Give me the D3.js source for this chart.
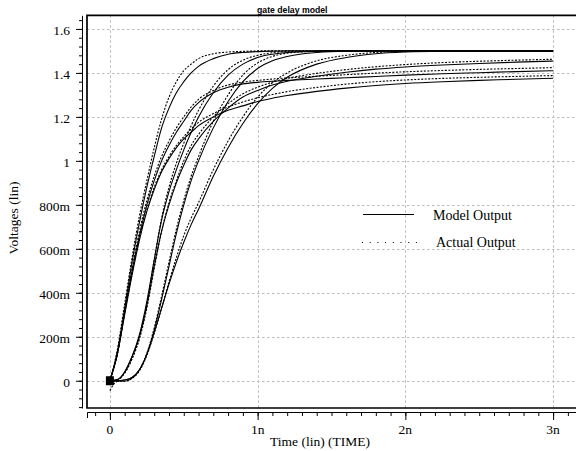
<!DOCTYPE html>
<html><head><meta charset="utf-8">
<script src="https://cdn.jsdelivr.net/npm/d3@7"></script>
<style>body{margin:0;background:#fff}</style>
</head><body>
<svg id="chart" width="576" height="451"></svg>
<script>
const titleText = "gate delay model";
const xLabel = "Time (lin) (TIME)";
const yLabel = "Voltages (lin)";
const xTicks = [0, 1, 2, 3];
const xTickLabels = ["0", "1n", "2n", "3n"];
const yTicks = [0, 0.2, 0.4, 0.6, 0.8, 1.0, 1.2, 1.4, 1.6];
const yTickLabels = ["0", "200m", "400m", "600m", "800m", "1", "1.2", "1.4", "1.6"];
const legendLabels = ["Model Output", "Actual Output"];

// time in ns
const timeNs = [0,0.05,0.1,0.15,0.2,0.25,0.3,0.35,0.4,0.45,0.5,0.55,0.6,0.7,0.8,0.9,1.0,1.1,1.2,1.4,1.6,1.8,2.0,2.25,2.5,2.75,3.0];

// model (solid) outputs, volts
const model1 = [0,.13,.33,.54,.72,.88,1.02,1.15,1.24,1.31,1.36,1.40,1.43,1.465,1.485,1.493,1.497,1.499,1.5,1.5,1.5,1.5,1.5,1.5,1.5,1.5,1.5];
const model2 = [0,.12,.31,.5,.66,.8,.91,1.0,1.07,1.13,1.18,1.23,1.265,1.31,1.335,1.35,1.357,1.362,1.366,1.372,1.378,1.384,1.39,1.396,1.401,1.406,1.41];
const model3 = [0,.12,.3,.48,.64,.77,.87,.95,1.01,1.06,1.1,1.13,1.16,1.2,1.23,1.25,1.27,1.285,1.297,1.316,1.331,1.343,1.352,1.36,1.366,1.371,1.376];
const model4 = [0,.005,.04,.11,.21,.36,.55,.73,.86,.96,1.05,1.13,1.2,1.31,1.39,1.44,1.47,1.485,1.493,1.498,1.5,1.5,1.5,1.5,1.5,1.5,1.5];
const model5 = [0,.005,.04,.11,.2,.34,.52,.68,.8,.9,.98,1.05,1.1,1.18,1.24,1.29,1.32,1.345,1.362,1.385,1.403,1.417,1.427,1.436,1.443,1.449,1.454];
const model6 = [0,0,.003,.015,.05,.12,.22,.33,.44,.54,.63,.71,.78,.93,1.06,1.17,1.26,1.33,1.38,1.44,1.47,1.487,1.495,1.499,1.5,1.5,1.5];
const model7 = [0,0,.003,.015,.05,.12,.23,.37,.52,.67,.8,.91,1.0,1.15,1.27,1.36,1.42,1.455,1.475,1.493,1.499,1.5,1.5,1.5,1.5,1.5,1.5];

// actual (dotted) outputs, volts
const actual1 = [0,.14,.35,.56,.75,.91,1.06,1.19,1.29,1.36,1.41,1.44,1.465,1.487,1.495,1.498,1.5,1.5,1.5,1.5,1.5,1.5,1.5,1.5,1.5,1.5,1.5];
const actual2 = [0,.12,.32,.51,.68,.82,.93,1.02,1.09,1.15,1.2,1.245,1.28,1.32,1.345,1.358,1.366,1.372,1.377,1.385,1.392,1.399,1.405,1.411,1.416,1.42,1.424];
const actual3 = [0,.12,.31,.49,.65,.78,.88,.96,1.02,1.07,1.11,1.145,1.175,1.215,1.245,1.268,1.287,1.302,1.315,1.334,1.349,1.36,1.368,1.375,1.38,1.384,1.388];
const actual4 = [0,.004,.035,.1,.2,.35,.55,.74,.88,.99,1.08,1.16,1.23,1.34,1.415,1.458,1.48,1.492,1.497,1.5,1.5,1.5,1.5,1.5,1.5,1.5,1.5];
const actual5 = [0,.004,.035,.1,.19,.33,.51,.68,.81,.91,1.0,1.07,1.12,1.2,1.26,1.305,1.335,1.358,1.375,1.398,1.415,1.428,1.438,1.447,1.453,1.458,1.462];
const actual6 = [-.045,-.003,-.002,.01,.045,.115,.215,.33,.45,.56,.66,.74,.81,.96,1.09,1.2,1.29,1.355,1.4,1.455,1.48,1.493,1.498,1.5,1.5,1.5,1.5];
const actual7 = [0,-.003,-.002,.012,.05,.125,.24,.385,.54,.69,.82,.93,1.02,1.18,1.3,1.39,1.445,1.475,1.49,1.498,1.5,1.5,1.5,1.5,1.5,1.5,1.5];

const modelSeries = [model1, model2, model3, model4, model5, model6, model7];
const actualSeries = [actual1, actual2, actual3, actual4, actual5, actual6, actual7];

const svg = d3.select("#chart");
const x = d3.scaleLinear().domain([-0.155, 3.155]).range([87, 576]);
const y = d3.scaleLinear().domain([-0.124, 1.662]).range([408, 15.3]);
const serif = "'Liberation Serif','Times New Roman',serif";

// grid
const grid = svg.append("g").attr("stroke", "#bcbcbc").attr("stroke-width", 1).attr("stroke-dasharray", "2.5,2.5");
grid.selectAll("line.h").data(yTicks).join("line")
  .attr("x1", x.range()[0]).attr("x2", x.range()[1])
  .attr("y1", d => Math.round(y(d)) + 0.5).attr("y2", d => Math.round(y(d)) + 0.5);
grid.selectAll("line.v").data(xTicks).join("line")
  .attr("y1", y.range()[1]).attr("y2", y.range()[0])
  .attr("x1", d => Math.round(x(d)) + 0.5).attr("x2", d => Math.round(x(d)) + 0.5);

// curves
const line = d3.line().x((d, i) => x(timeNs[i])).y(d => y(d)).curve(d3.curveMonotoneX);
svg.append("clipPath").attr("id", "clp").append("rect")
  .attr("x", 87).attr("y", 15).attr("width", 489).attr("height", 393);
const curves = svg.append("g").attr("clip-path", "url(#clp)").attr("fill", "none").attr("stroke", "#000");
curves.selectAll("path.act").data(actualSeries).join("path")
  .attr("d", line).attr("stroke-width", 1.1).attr("stroke-dasharray", "2,1.5");
curves.selectAll("path.mod").data(modelSeries).join("path")
  .attr("d", line).attr("stroke-width", 1.1);

// start marker
svg.append("rect").attr("x", x(0) - 4).attr("y", y(0) - 4.5).attr("width", 8).attr("height", 9).attr("fill", "#000");

// frame
svg.append("path").attr("d", `M576,${y.range()[1]}H87V${y.range()[0]}H576`)
  .attr("stroke", "#000").attr("stroke-width", 1.7).attr("fill", "none");

// y axis
const yAxisG = svg.append("g").attr("transform", "translate(82,0)");
yAxisG.call(d3.axisLeft(y).tickValues(yTicks).tickSize(6).tickSizeOuter(0).tickFormat(""));
yAxisG.append("g").call(d3.axisLeft(y).tickValues(d3.range(-0.12, 1.65, 0.04)).tickSize(3).tickSizeOuter(0).tickFormat(""))
  .select(".domain").remove();
yAxisG.selectAll("path,line").attr("stroke", "#000");
svg.append("g").selectAll("text").data(yTicks).join("text")
  .attr("x", 70).attr("y", d => y(d) + 6).attr("text-anchor", "end")
  .attr("font-family", serif).attr("font-size", 13.5).text((d, i) => yTickLabels[i]);

// x axis
const xAxisG = svg.append("g").attr("transform", "translate(0,412)");
xAxisG.call(d3.axisBottom(x).tickValues(xTicks).tickSize(8).tickSizeOuter(6).tickFormat(""));
xAxisG.append("g").call(d3.axisBottom(x).tickValues(d3.range(-0.1, 3.16, 0.1)).tickSize(4).tickSizeOuter(0).tickFormat(""))
  .select(".domain").remove();
xAxisG.selectAll("path,line").attr("stroke", "#000");
svg.append("g").selectAll("text").data(xTicks).join("text")
  .attr("x", d => x(d)).attr("y", 434).attr("text-anchor", "middle")
  .attr("font-family", serif).attr("font-size", 13.5).text((d, i) => xTickLabels[i]);

// labels
svg.append("text").attr("x", 320).attr("y", 446).attr("text-anchor", "middle")
  .attr("font-family", serif).attr("font-size", 13.5).text(xLabel);
svg.append("text").attr("transform", "translate(18,218) rotate(-90)").attr("text-anchor", "middle")
  .attr("font-family", serif).attr("font-size", 13.5).text(yLabel);
svg.append("text").attr("x", 257).attr("y", 12.5)
  .attr("font-family", "'Liberation Sans',Arial,sans-serif").attr("font-weight", "bold").attr("font-size", 8.7).text(titleText);

// legend
const leg = svg.append("g");
leg.append("line").attr("x1", 363).attr("x2", 414).attr("y1", 214.5).attr("y2", 214.5).attr("stroke", "#000").attr("stroke-width", 1);
leg.append("line").attr("x1", 362).attr("x2", 417).attr("y1", 242.5).attr("y2", 242.5).attr("stroke", "#000").attr("stroke-width", 1).attr("stroke-dasharray", "1,6.7");
leg.append("text").attr("x", 433).attr("y", 219.5).attr("font-family", serif).attr("font-size", 14).text(legendLabels[0]);
leg.append("text").attr("x", 436).attr("y", 246.5).attr("font-family", serif).attr("font-size", 14).text(legendLabels[1]);
</script>
</body></html>
